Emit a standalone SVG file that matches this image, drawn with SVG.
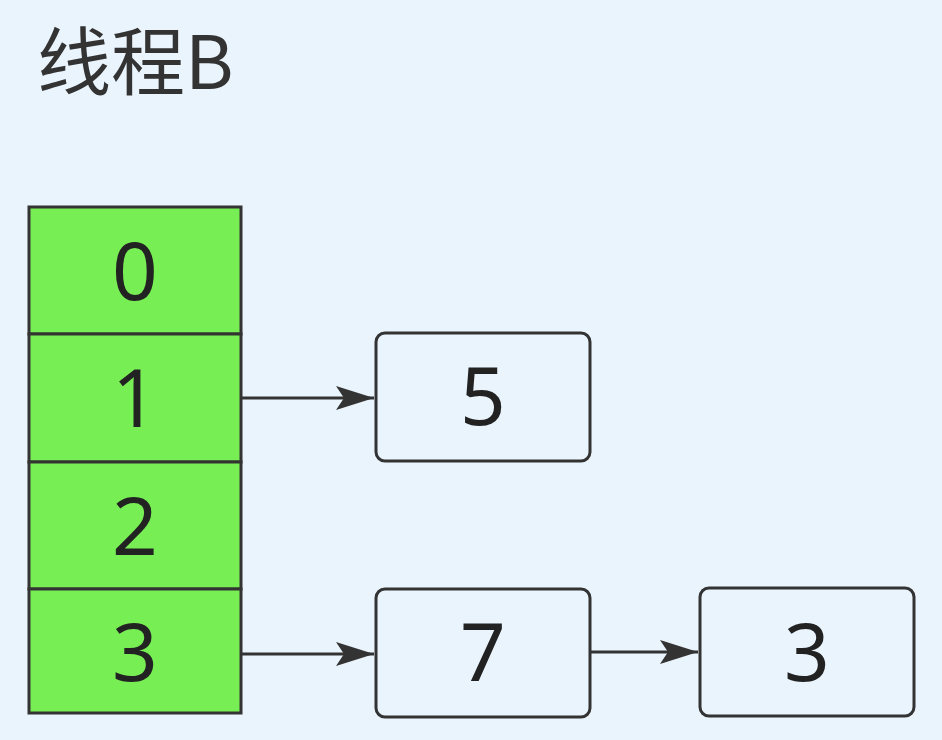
<svg xmlns="http://www.w3.org/2000/svg" width="942" height="740" viewBox="0 0 942 740">
<defs>
<style>
.cell{fill:#78ee55;stroke:#333;stroke-width:3}
.box{fill:#eaf4fc;stroke:#333;stroke-width:3}
.num{font-family:"Noto Sans","Open Sans",sans-serif;font-size:80px;fill:#222;text-anchor:middle}
.edge{stroke:#333;stroke-width:3;fill:none;marker-end:url(#arr)}
</style>
<marker id="arr" markerWidth="38" markerHeight="24" refX="38" refY="12" orient="auto" markerUnits="userSpaceOnUse" viewBox="0 0 38 24">
<path d="M0,0 L38,12 L0,24 L8,12 Z" fill="#333"/>
</marker>
</defs>
<rect width="942" height="740" fill="#eaf4fc"/>
<text x="37" y="89" font-family="'Noto Sans CJK SC','Noto Sans',sans-serif" font-size="74" fill="#333">线程B</text>
<g id="cell0"><rect class="cell" x="29" y="207" width="212" height="127"/><text class="num" x="135" y="300">0</text></g>
<g id="cell1"><rect class="cell" x="29" y="334" width="212" height="128"/><text class="num" x="135" y="427">1</text></g>
<g id="cell2"><rect class="cell" x="29" y="462" width="212" height="127"/><text class="num" x="135" y="555">2</text></g>
<g id="cell3"><rect class="cell" x="29" y="589" width="212" height="124"/><text class="num" x="135" y="681">3</text></g>
<g id="node5"><rect class="box" x="376" y="333" width="214" height="128" rx="9"/><text class="num" x="483" y="425">5</text></g>
<g id="node7"><rect class="box" x="376" y="589" width="214" height="128" rx="9"/><text class="num" x="483" y="681">7</text></g>
<g id="node3"><rect class="box" x="700" y="588" width="214" height="128" rx="9"/><text class="num" x="807" y="681">3</text></g>
<g id="connectors">
<path class="edge" d="M242,398 L374,398"/>
<path class="edge" d="M242,654 L374,654"/>
<path class="edge" d="M591,652 L698,652"/>
</g>
</svg>
